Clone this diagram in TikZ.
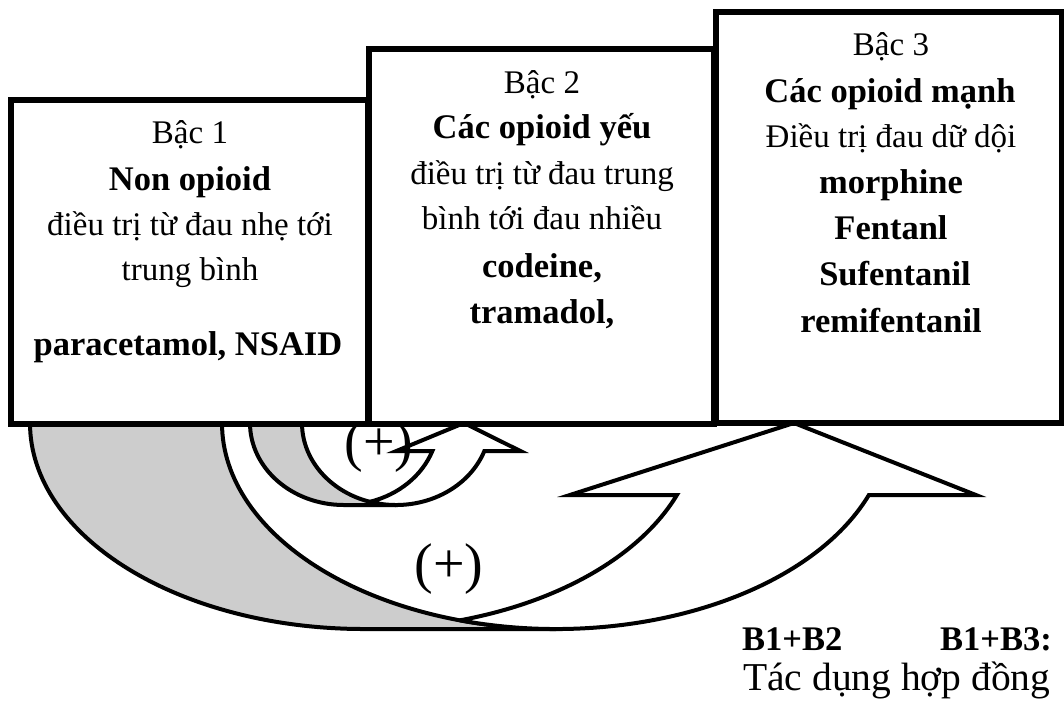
\documentclass[tikz,border=0pt]{standalone}
\usepackage{fontspec}
\setmainfont{Liberation Serif}
\definecolor{backgray}{RGB}{205,205,205}
\newcommand\bfbig{\fontsize{34.5}{40}\selectfont\bfseries}
\tikzset{
  bx/.style={draw, line width=5.5pt, fill=white, rectangle, anchor=north west, inner sep=0pt, outer sep=0pt},
  txt/.style={anchor=base, inner sep=0pt, font=\fontsize{33}{40}\selectfont},
  lefttxt/.style={anchor=base west, inner sep=0pt, font=\fontsize{33}{40}\selectfont},
  plus/.style={anchor=base, inner sep=0pt, font=\fontsize{56}{62}\selectfont},
  arrline/.style={line width=4pt, line join=miter},
  backpart/.style={arrline, fill=backgray, draw=black},
  frontpart/.style={arrline, fill=white, draw=black}
}
\begin{document}
\begin{tikzpicture}[x=1pt,y=1pt]
\useasboundingbox (0,0) rectangle (1064,-713);

% ---- big curved up arrow (B1 -> B3) ----
\filldraw[backpart] (30,-423)
  arc[start angle=180, end angle=270, x radius=334pt, y radius=206pt]
  -- (556,-629)
  arc[start angle=270, end angle=180, x radius=334pt, y radius=206pt]
  -- cycle;
\coordinate (bigcusp) at (460,-620.3);
\coordinate (bigtip) at (794,-423);
\filldraw[frontpart] (bigcusp)
  arc[start angle=253.3, end angle=339.54, x radius=334pt, y radius=206pt]
  -- (975.9,-495) -- (bigtip) -- (569.9,-495) -- (676.9,-495)
  arc[start angle=339.54, end angle=286.7, x radius=334pt, y radius=206pt]
  -- cycle;

% ---- small curved up arrow (B1 -> B2) ----
\filldraw[backpart] (250,-423)
  arc[start angle=180, end angle=270, x radius=94pt, y radius=82pt]
  -- (396,-505)
  arc[start angle=270, end angle=180, x radius=94pt, y radius=82pt]
  -- cycle;
\coordinate (smallcusp) at (370,-501.8);
\coordinate (smalltip) at (464,-423);
\filldraw[frontpart] (smallcusp)
  arc[start angle=253.94, end angle=340.03, x radius=94pt, y radius=82pt]
  -- (520.35,-451) -- (smalltip) -- (396.35,-451) -- (432.35,-451)
  arc[start angle=340.03, end angle=286.06, x radius=94pt, y radius=82pt]
  -- cycle;

% ---- boxes ----
\node[bx, minimum width=357pt, minimum height=324pt] (box1) at (11,-100) {};
\node[bx, minimum width=345pt, minimum height=375pt] (box2) at (369,-49) {};
\node[bx, minimum width=346pt, minimum height=411pt] (box3) at (716,-12) {};

% ---- box 1 text ----
\node[txt] (b1a) at (190,-143) {Bậc 1};
\node[txt] (b1b) at (190,-190) {\bfbig Non opioid};
\node[txt] (b1c) at (190,-235) {điều trị từ đau nhẹ tới};
\node[txt] (b1d) at (190,-280) {trung bình};
\node[txt] (b1e) at (188,-355) {\bfbig paracetamol, NSAID};

% ---- box 2 text ----
\node[txt] (b2a) at (542,-93) {Bậc 2};
\node[txt] (b2b) at (542,-138) {\bfbig Các opioid yếu};
\node[txt] (b2c) at (542,-184) {điều trị từ đau trung};
\node[txt] (b2d) at (542,-229) {bình tới đau nhiều};
\node[txt] (b2e) at (542,-277) {\bfbig codeine,};
\node[txt] (b2f) at (542,-323) {\bfbig tramadol,};

% ---- box 3 text ----
\node[txt] (b3a) at (891,-55) {Bậc 3};
\node[txt] (b3b) at (890,-102) {\bfbig Các opioid mạnh};
\node[txt] (b3c) at (891,-147) {Điều trị đau dữ dội};
\node[txt] (b3d) at (891,-193) {\bfbig morphine};
\node[txt] (b3e) at (891,-239) {\bfbig Fentanl};
\node[txt] (b3f) at (895,-285) {\bfbig Sufentanil};
\node[txt] (b3g) at (891,-332) {\bfbig remifentanil};

% ---- (+) labels ----
\node[plus] (plussmall) at (379,-460) {(+)};
\node[plus] (plusbig) at (449,-582) {(+)};

% ---- bottom right text ----
\node[lefttxt] (b12) at (742,-650) {\bfbig B1+B2};
\node[lefttxt] (b13) at (940,-650) {\bfbig B1+B3:};
\node[lefttxt, font=\fontsize{39.5}{44}\selectfont] (syn) at (743,-690) {Tác dụng hợp đồng};
\end{tikzpicture}
\end{document}
